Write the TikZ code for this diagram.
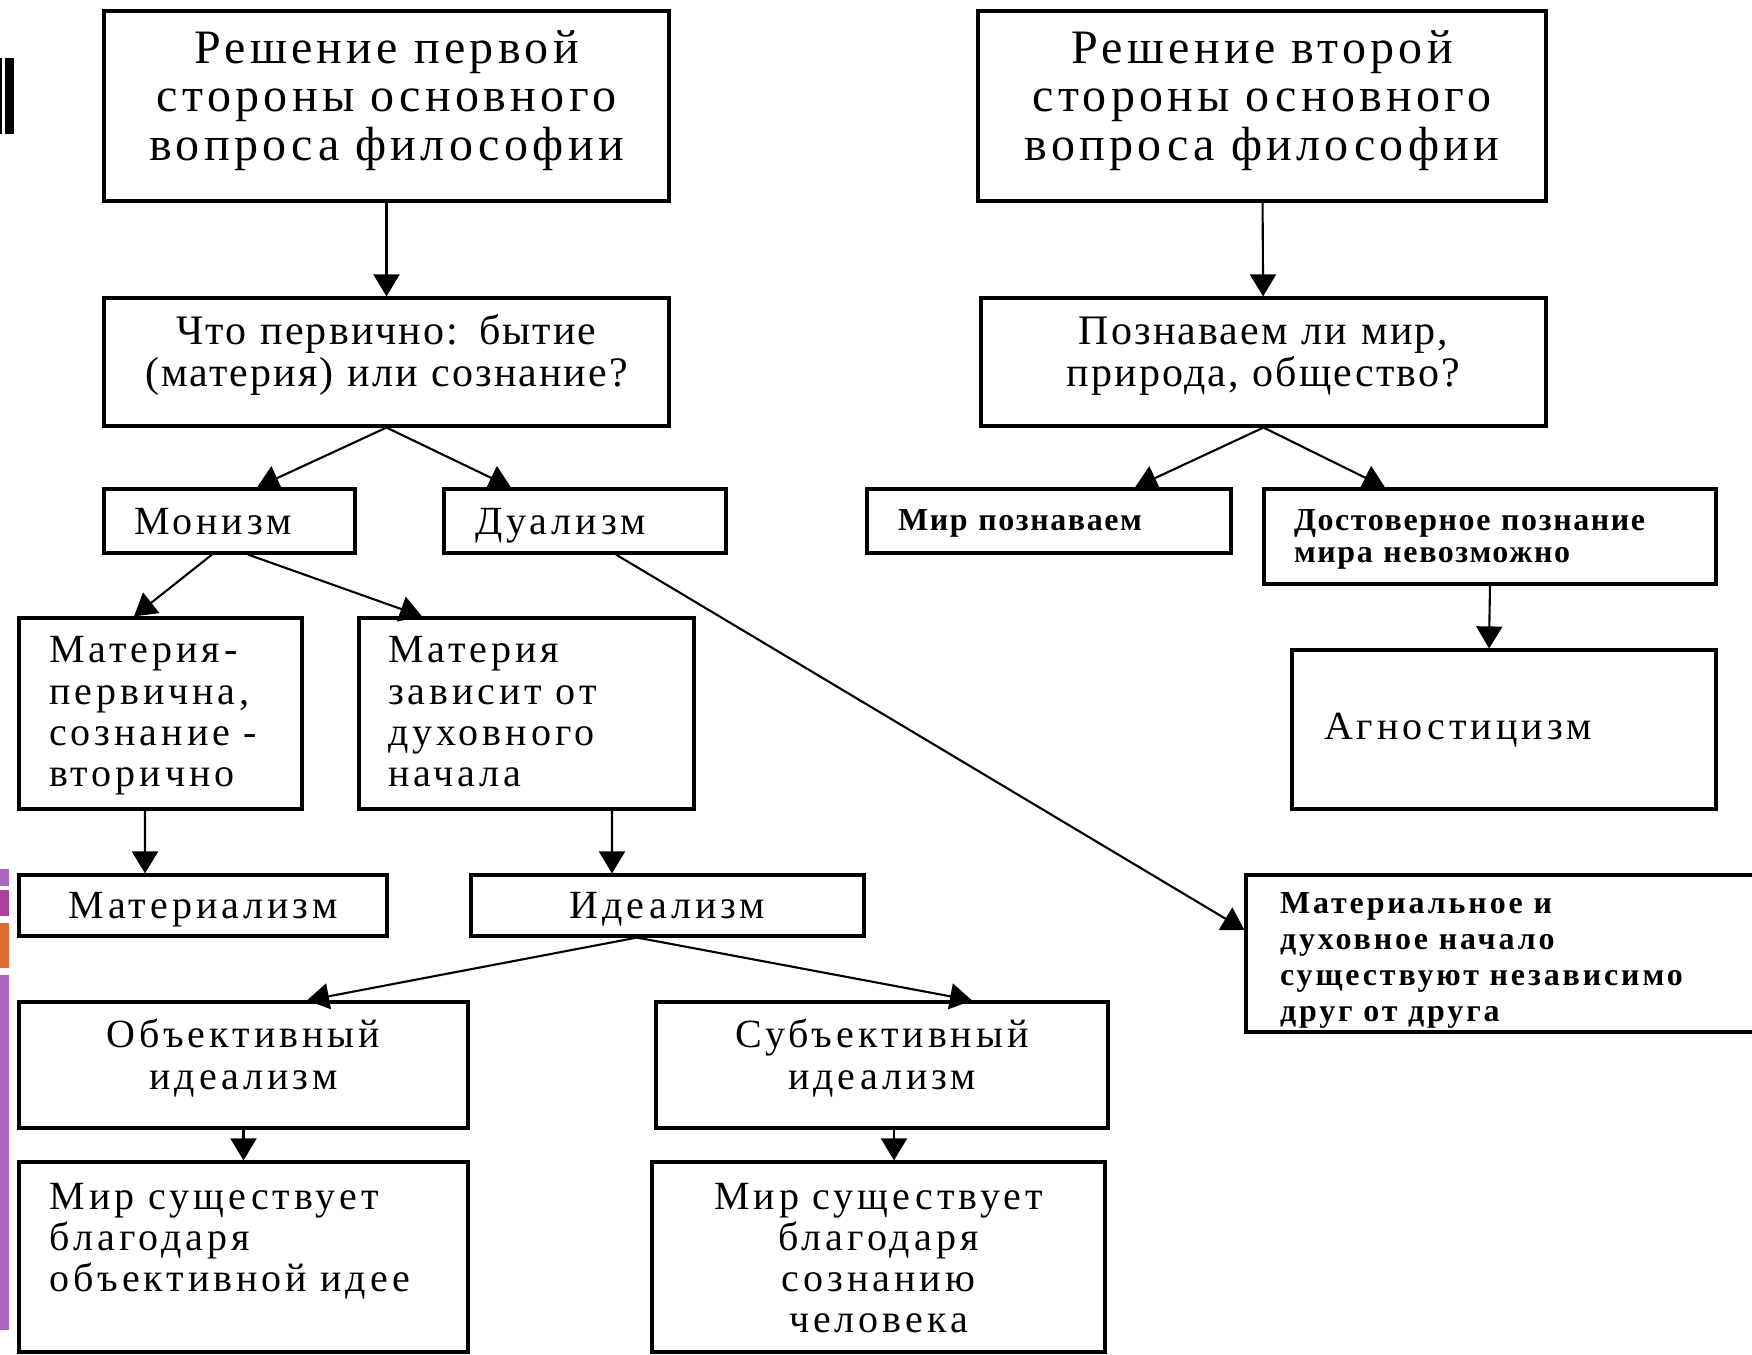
\documentclass[tikz,border=0pt]{standalone}
\usepackage{fontspec}
\setmainfont{Liberation Serif}
\usetikzlibrary{arrows.meta}

\definecolor{barpurple}{RGB}{168,102,190}
\definecolor{barmagenta}{RGB}{176,64,153}
\definecolor{barorange}{RGB}{224,107,52}

\begin{document}
\begin{tikzpicture}
\tikzset{ >={Triangle[width=0.26cm,length=0.22cm]},
  box/.style={draw, line width=0.9pt, inner sep=0.1cm},
  lift/.style={text height=0pt, text depth=#1},
  drop/.style={text height=#1, text depth=0pt},
  fA/.style={font=\fontsize{13.66}{13.66}\selectfont\addfontfeature{LetterSpace=9}},
  fB/.style={font=\fontsize{11.95}{11.95}\selectfont\addfontfeature{LetterSpace=5}},
  fC/.style={font=\fontsize{11.38}{11.67}\selectfont\addfontfeature{LetterSpace=10}},
  fD/.style={font=\fontsize{9.1}{9.1}\selectfont\bfseries\addfontfeature{LetterSpace=5}},
  fE/.style={font=\fontsize{9.1}{10.24}\selectfont\bfseries\addfontfeature{LetterSpace=9}},
  link/.style={->, line width=0.6pt},
}

\useasboundingbox (0,0) rectangle (17.52,-13.55);
%\draw [lightgray, dashed] (0,-13.55) grid (17.52,0);

% marks on the left edge
\fill [black] (0,-0.58) rectangle (0.02,-1.34);
\fill [black] (0.05,-0.58) rectangle (0.14,-1.34);
\fill [barpurple]  (0,-8.69) rectangle (0.09,-8.86);
\fill [barmagenta] (0,-8.90) rectangle (0.09,-9.16);
\fill [barorange]  (0,-9.23) rectangle (0.09,-9.68);
\fill [barpurple]  (0,-9.75) rectangle (0.09,-13.30);

% first side
\node [box, fA, lift=0.84cm, minimum width=5.65cm, minimum height=1.90cm, text width=5.45cm, align=center] (top1) at (3.865,-1.06)
  {Решение первой\\стороны основного\\вопроса философии};
\node [box, fB, lift=0.34cm, minimum width=5.65cm, minimum height=1.28cm, text width=5.45cm, align=center] (q1) at (3.865,-3.62)
  {Что первично: бытие\\(материя) или сознание?};
\node [box, fC, drop=0.28cm, minimum width=2.51cm, minimum height=0.64cm, inner xsep=0.30cm, text width=1.91cm, align=left] (mon) at (2.295,-5.21)
  {Монизм};
\node [box, fC, drop=0.28cm, minimum width=2.82cm, minimum height=0.64cm, inner xsep=0.31cm, text width=2.20cm, align=left] (dual) at (5.85,-5.21)
  {Дуализм};
\node [box, fC, lift=1.01cm, minimum width=2.83cm, minimum height=1.91cm, inner xsep=0.30cm, text width=2.23cm, align=left] (mprim) at (1.605,-7.135)
  {Материя-\\первична,\\сознание -\\вторично};
\node [box, fC, lift=1.01cm, minimum width=3.35cm, minimum height=1.91cm, inner xsep=0.29cm, text width=2.77cm, align=left] (mdep) at (5.265,-7.135)
  {Материя\\зависит от\\духовного\\начала};
\node [box, fC, drop=0.27cm, minimum width=3.68cm, minimum height=0.61cm, text width=3.48cm, align=center] (mat) at (2.03,-9.055)
  {Материализм};
\node [box, fC, drop=0.27cm, minimum width=3.93cm, minimum height=0.61cm, text width=3.73cm, align=center] (ideal) at (6.675,-9.055)
  {Идеализм};
\node [box, fC, lift=0.34cm, minimum width=4.49cm, minimum height=1.26cm, text width=4.29cm, align=center] (obj) at (2.435,-10.65)
  {Объективный\\идеализм};
\node [box, fC, lift=0.34cm, minimum width=4.52cm, minimum height=1.26cm, text width=4.32cm, align=center] (subj) at (8.82,-10.65)
  {Субъективный\\идеализм};
\node [box, fC, lift=0.96cm, minimum width=4.49cm, minimum height=1.90cm, inner xsep=0.31cm, text width=3.87cm, align=left] (wobj) at (2.435,-12.57)
  {Мир существует\\благодаря\\объективной идее};
\node [box, fC, lift=0.96cm, minimum width=4.53cm, minimum height=1.90cm, text width=4.33cm, align=center] (wsubj) at (8.785,-12.57)
  {Мир существует\\благодаря\\сознанию\\человека};

% second side
\node [box, fA, lift=0.84cm, minimum width=5.68cm, minimum height=1.90cm, text width=5.48cm, align=center] (top2) at (12.62,-1.06)
  {Решение второй\\стороны основного\\вопроса философии};
\node [box, fB, lift=0.34cm, minimum width=5.65cm, minimum height=1.28cm, text width=5.45cm, align=center] (q2) at (12.635,-3.62)
  {Познаваем ли мир,\\природа, общество?};
\node [box, fD, drop=0.20cm, minimum width=3.64cm, minimum height=0.64cm, inner xsep=0.31cm, text width=3.02cm, align=left] (know) at (10.49,-5.21)
  {Мир познаваем};
\node [box, fD, lift=0.11cm, minimum width=4.52cm, minimum height=0.95cm, inner xsep=0.30cm, text width=3.92cm, align=left] (unk) at (14.90,-5.365)
  {Достоверное познание\\мира невозможно};
\node [box, fC, drop=0.20cm, minimum width=4.24cm, minimum height=1.59cm, inner xsep=0.32cm, text width=3.60cm, align=left] (agn) at (15.04,-7.295)
  {Агностицизм};
\node [box, fE, lift=0.79cm, minimum width=5.16cm, minimum height=1.57cm, inner xsep=0.34cm, text width=4.48cm, align=left] (indep) at (15.04,-9.535)
  {Материальное и\\духовное начало\\существуют независимо\\друг от друга};

% arrows
\draw [link] (top1) -- (q1);
\draw [link] (top2) -- (q2);
\draw [link] (q1.south) -- ([xshift=0.275cm]mon.north);
\draw [link] (q1.south) -- ([xshift=-0.74cm]dual.north);
\draw [link] (q2.south) -- ([xshift=0.86cm]know.north);
\draw [link] (q2.south) -- ([xshift=-1.05cm]unk.north);
\draw [link] ([xshift=-0.175cm]mon.south) -- ([xshift=-0.265cm]mprim.north);
\draw [link] ([xshift=0.185cm]mon.south) -- ([xshift=-1.045cm]mdep.north);
\draw [link] ([xshift=0.31cm]dual.south) -- ([yshift=0.235cm]indep.west);
\draw [link] (unk.south) -- ([xshift=-0.15cm]agn.north);
\draw [link] ([xshift=-0.155cm]mprim.south) -- ([xshift=-0.58cm]mat.north);
\draw [link] ([xshift=0.855cm]mdep.south) -- ([xshift=-0.555cm]ideal.north);
\draw [link] ([xshift=-0.305cm]ideal.south) -- ([xshift=0.635cm]obj.north);
\draw [link] ([xshift=-0.305cm]ideal.south) -- ([xshift=0.90cm]subj.north);
\draw [link] (obj) -- (wobj);
\draw [link] ([xshift=0.12cm]subj.south) -- ([xshift=0.155cm]wsubj.north);

\end{tikzpicture}
\end{document}
